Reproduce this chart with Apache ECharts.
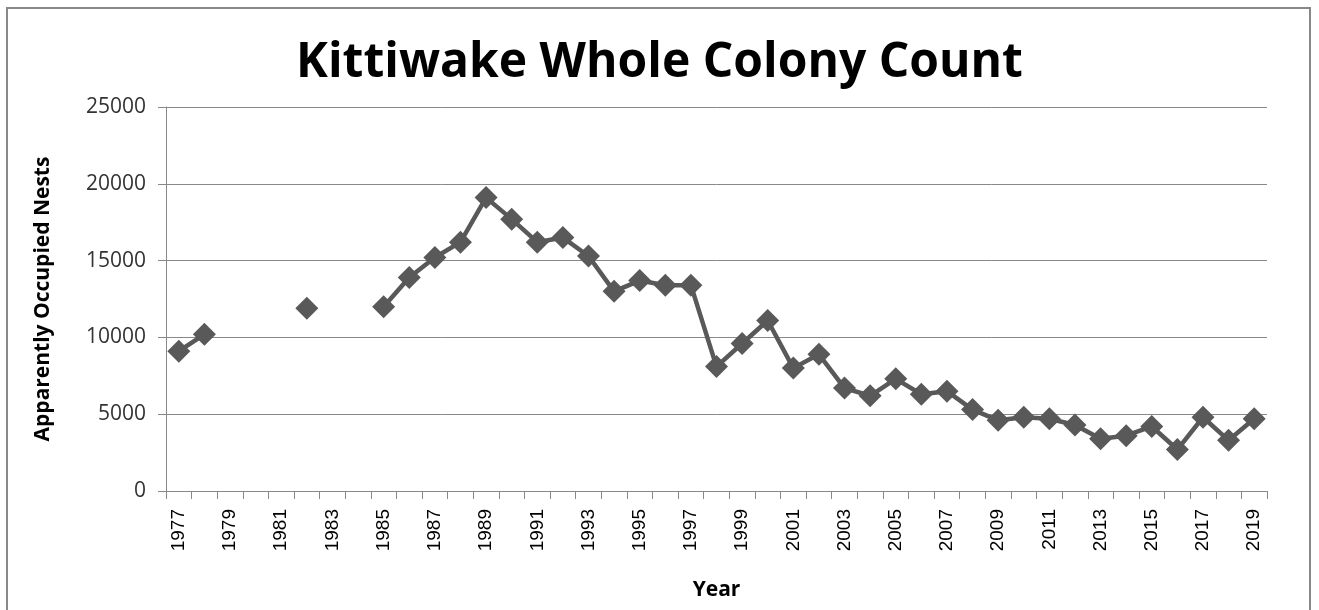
<!DOCTYPE html>
<html lang="en">
<head>
    <meta charset="UTF-8">
    <title>Kittiwake Whole Colony Count</title>
    <script src="https://cdn.jsdelivr.net/npm/echarts@6/dist/echarts.min.js"></script>
    <style>
        html, body { margin: 0; padding: 0; background: #fff; }
        #chart { width: 1319px; height: 610px; }
    </style>
</head>
<body>
<div id="chart"></div>
<script>
  var years = [];
  for (var y = 1977; y <= 2019; y++) years.push(String(y));

  // apparently occupied nests, null where no count
  var nests = [
    9100, 10200, null, null, null, 11900, null, null, 12000, 13900,
    15200, 16200, 19100, 17700, 16200, 16500, 15300, 13000, 13700, 13400,
    13400, 8100, 9600, 11100, 8000, 8900, 6700, 6200, 7300, 6300,
    6500, 5300, 4600, 4800, 4700, 4300, 3400, 3600, 4200, 2700,
    4800, 3300, 4700
  ];

  var chart = echarts.init(document.getElementById('chart'));

  chart.setOption({
    animation: false,
    title: {
      text: 'Kittiwake Whole Colony Count',
      left: 'center',
      top: 34,
      textStyle: { fontFamily: 'Open Sans', fontWeight: 'bold', fontSize: 48, color: '#000' }
    },
    graphic: [{
      type: 'rect',
      shape: { x: 7, y: 8, width: 1303, height: 640 },
      style: { fill: 'none', stroke: '#888', lineWidth: 2 }
    }],
    grid: { left: 166, right: 52, top: 107, bottom: 119 },
    xAxis: {
      type: 'category',
      data: years,
      boundaryGap: true,
      name: 'Year',
      nameLocation: 'middle',
      nameGap: 89,
      nameTextStyle: { fontFamily: 'Open Sans', fontWeight: 'bold', fontSize: 21, color: '#000' },
      axisLine: { lineStyle: { color: '#888', width: 1 } },
      axisTick: { show: true, interval: 0, length: 8, lineStyle: { color: '#888' } },
      axisLabel: {
        interval: 1,
        rotate: 90,
        margin: 18,
        fontFamily: 'Liberation Sans',
        fontSize: 19,
        color: '#000'
      }
    },
    yAxis: {
      type: 'value',
      min: 0,
      max: 25000,
      interval: 5000,
      name: 'Apparently Occupied Nests',
      nameLocation: 'middle',
      nameGap: 112,
      nameTextStyle: { fontFamily: 'Open Sans', fontWeight: 'bold', fontSize: 21, color: '#000' },
      axisLine: { show: true, lineStyle: { color: '#888', width: 1 } },
      axisTick: { show: true, length: 8, lineStyle: { color: '#888' } },
      axisLabel: {
        margin: 20,
        fontFamily: 'Open Sans',
        fontSize: 21,
        color: '#333',
        formatter: function (v) { return String(v); }
      },
      splitLine: { lineStyle: { color: '#888', width: 1 } }
    },
    series: [{
      type: 'line',
      data: nests,
      connectNulls: false,
      symbol: 'diamond',
      symbolSize: 23,
      showAllSymbol: true,
      lineStyle: { color: '#595959', width: 4.5 },
      itemStyle: { color: '#595959' }
    }]
  });
</script>
</body>
</html>
